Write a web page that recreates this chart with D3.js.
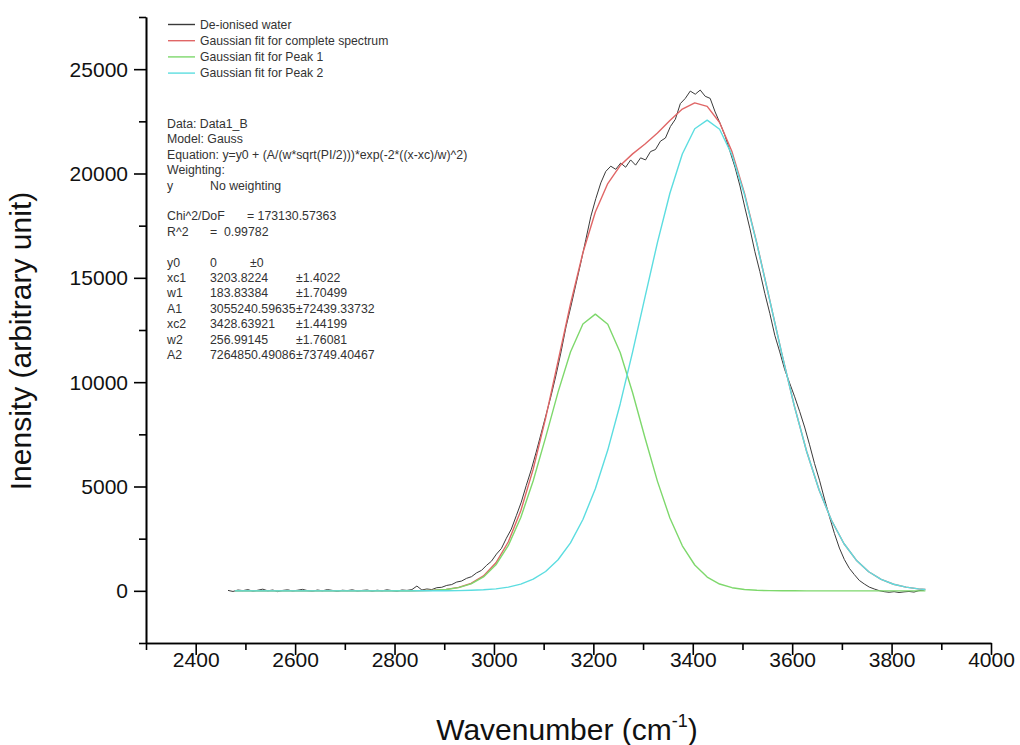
<!DOCTYPE html>
<html>
<head>
<meta charset="utf-8">
<script src="https://cdn.jsdelivr.net/npm/d3@7/dist/d3.min.js"></script>
<style>
  html, body { margin: 0; padding: 0; background: #fff; }
  svg { display: block; font-family: Arial, "Liberation Sans", sans-serif; }
  .note text { white-space: pre; }
</style>
</head>
<body>
<svg id="chart" width="1020" height="745"></svg>
<script>
// Axis tick values
const xMajorTicks = [2400, 2600, 2800, 3000, 3200, 3400, 3600, 3800, 4000];
const xMinorTicks = [2300, 2500, 2700, 2900, 3100, 3300, 3500, 3700, 3900];
const yMajorTicks = [0, 5000, 10000, 15000, 20000, 25000];
const yMinorTicks = [-2500, 2500, 7500, 12500, 17500, 22500, 27500];

// Measured spectrum: de-ionised water, sampled every 10 cm-1 from 2465 cm-1
const spectrumStart = 2465;
const spectrumStep = 10;
const waterIntensity = [
  20, -30, 40, 10, 60, -20, 30, 80, 0, 40, -40, 20, 50, -10, 30, 70, 10, -20, 40, 0,
  60, 20, -30, 30, 10, 50, -10, 20, 40, -20, 30, 0, 50, 10, -20, 40, 20, 60, 230, 40, 90,
  60, 150, 170, 260, 300, 420, 470, 600, 680, 860, 980, 1220, 1420, 1760, 2030, 2520,
  2960, 3600, 4250, 5050, 5800, 6650, 7550, 8450, 9350, 10350, 11450, 12650, 13650,
  14700, 15750, 16850, 17950, 18800, 19550, 20100,
  20350, 20200, 20500, 20300, 20650, 20400, 20750, 20650, 21050, 21150, 21550, 21700,
  22250, 22600, 23350, 23600, 23950, 23800, 24000, 23700, 23600, 22950, 22400,
  21800, 21050, 20300, 19400, 18350, 17350, 16250, 15300, 14250, 13300, 12250, 11450,
  10600, 9950, 9300, 8600, 7850, 7000, 6100, 5300, 4400, 3550, 2750, 2050, 1500, 1080,
  780, 500, 330, 180, 90, 10, -40, -70, -40, -80, -50, -30, -60, 10, 30
];

// Wavenumbers at which the fitted curves are tabulated
const fitWavenumber = [
  2479, 2504, 2529, 2554, 2579, 2604, 2629, 2654, 2679, 2704, 2729, 2754, 2779, 2804,
  2829, 2854, 2879, 2904, 2929, 2954, 2979, 3004, 3029, 3054, 3079, 3104, 3129, 3154,
  3179, 3204, 3229, 3254, 3279, 3304, 3329, 3354, 3379, 3404, 3429, 3454, 3479, 3504,
  3529, 3554, 3579, 3604, 3629, 3654, 3679, 3704, 3729, 3754, 3779, 3804, 3829, 3854, 3868
];

// Gaussian fit for complete spectrum
const fitTotal = [
  0, 0, 0, 0, 0, 0, 0, 0, 0, 0, 0, 0, 0, 1,
  3, 11, 28, 70, 164, 355, 715, 1344, 2352, 3835, 5831, 8280, 11009, 13746,
  16204, 18155, 19519, 20381, 20940, 21413, 21944, 22543, 23090, 23382, 23215, 22446, 21038, 19055,
  16650, 14023, 11377, 8889, 6688, 4846, 3381, 2270, 1469, 914, 548, 316, 176, 94, 65
];

// Gaussian fit for Peak 1
const fitPeak1 = [
  0, 0, 0, 0, 0, 0, 0, 0, 0, 0, 0, 0, 0, 1,
  3, 10, 26, 65, 152, 330, 666, 1248, 2173, 3513, 5274, 7353, 9521, 11449,
  12786, 13261, 12773, 11425, 9491, 7322, 5246, 3490, 2157, 1238, 660, 326, 150, 64,
  25, 9, 3, 1, 0, 0, 0, 0, 0, 0, 0, 0, 0, 0, 0
];

// Gaussian fit for Peak 2
const fitPeak2 = [
  0, 0, 0, 0, 0, 0, 0, 0, 0, 0, 0, 0, 0, 0,
  0, 1, 2, 5, 12, 25, 49, 96, 179, 322, 557, 927, 1488, 2297,
  3418, 4894, 6746, 8956, 11449, 14091, 16698, 19053, 20933, 22144, 22555, 22120, 20888, 18991,
  16625, 14014, 11374, 8888, 6688, 4846, 3381, 2270, 1469, 914, 548, 316, 176, 94, 65
];

// Series names and colours
const seriesNames = [
  "De-ionised water",
  "Gaussian fit for complete spectrum",
  "Gaussian fit for Peak 1",
  "Gaussian fit for Peak 2"
];
const seriesColors = ["#3a3a3a", "#e06666", "#7ed86c", "#5cdde0"];

// Fit report lines: [label, value, error]
const reportHeader = [
  ["Data: Data1_B"],
  ["Model: Gauss"],
  ["Equation: y=y0 + (A/(w*sqrt(PI/2)))*exp(-2*((x-xc)/w)^2)"],
  ["Weighting:"],
  ["y", "No weighting"]
];
const reportStats = [
  ["Chi^2/DoF", "= 173130.57363"],
  ["R^2", "=  0.99782"]
];
const reportParams = [
  ["y0", "0", "\u00b10"],
  ["xc1", "3203.8224", "\u00b11.4022"],
  ["w1", "183.83384", "\u00b11.70499"],
  ["A1", "3055240.59635", "\u00b172439.33732"],
  ["xc2", "3428.63921", "\u00b11.44199"],
  ["w2", "256.99145", "\u00b11.76081"],
  ["A2", "7264850.49086", "\u00b173749.40467"]
];

const svg = d3.select("#chart");
svg.append("rect").attr("width", 1020).attr("height", 745).attr("fill", "#fff");

const x = d3.scaleLinear().domain([2300, 4000]).range([146, 991]);
const y = d3.scaleLinear().domain([-2500, 27500]).range([643, 17]);

// Curves
const waterPoints = waterIntensity.map((v, i) => [spectrumStart + i * spectrumStep, v]);
const line = d3.line().x(d => x(d[0])).y(d => y(d[1]));
const fits = [fitTotal, fitPeak1, fitPeak2].map(arr => arr.map((v, i) => [fitWavenumber[i], v]));

const plot = svg.append("g");
plot.append("path")
  .attr("d", line(waterPoints))
  .attr("fill", "none")
  .attr("stroke", seriesColors[0])
  .attr("stroke-width", 1)
  .attr("stroke-linejoin", "round");
fits.forEach((pts, k) => {
  plot.append("path")
    .attr("d", line(pts))
    .attr("fill", "none")
    .attr("stroke", seriesColors[k + 1])
    .attr("stroke-width", 1.4)
    .attr("stroke-linejoin", "round");
});

// Axes
function styleAxis(g) {
  g.selectAll("path, line").attr("stroke", "#000").attr("stroke-width", 1.6);
}
const xAxisMinor = svg.append("g").attr("transform", "translate(0,643)")
  .call(d3.axisBottom(x).tickValues(xMinorTicks).tickSize(7).tickSizeOuter(0).tickFormat(""));
const xAxis = svg.append("g").attr("transform", "translate(0,643)")
  .call(d3.axisBottom(x).tickValues(xMajorTicks).tickSize(12).tickSizeOuter(0).tickFormat(d3.format("d")));
const yAxisMinor = svg.append("g").attr("transform", "translate(146,0)")
  .call(d3.axisLeft(y).tickValues(yMinorTicks).tickSize(7).tickSizeOuter(0).tickFormat(""));
const yAxis = svg.append("g").attr("transform", "translate(146,0)")
  .call(d3.axisLeft(y).tickValues(yMajorTicks).tickSize(12).tickSizeOuter(0).tickFormat(d3.format("d")));
[xAxisMinor, xAxis, yAxisMinor, yAxis].forEach(styleAxis);

xAxis.selectAll("text")
  .attr("y", 9).attr("dy", "0.71em")
  .attr("font-size", 21).attr("fill", "#111")
  .attr("font-family", "Arial, 'Liberation Sans', sans-serif");
yAxis.selectAll("text")
  .attr("x", -18).attr("dy", "0.34em")
  .attr("font-size", 21).attr("fill", "#111")
  .attr("font-family", "Arial, 'Liberation Sans', sans-serif");

// Axis titles
svg.append("text")
  .attr("transform", "translate(31,341) rotate(-90)")
  .attr("text-anchor", "middle")
  .attr("font-size", 30)
  .attr("fill", "#111")
  .text("Inensity (arbitrary unit)");

const xTitle = svg.append("text")
  .attr("x", 567).attr("y", 740)
  .attr("text-anchor", "middle")
  .attr("font-size", 30)
  .attr("fill", "#111");
xTitle.append("tspan").text("Wavenumber (cm");
xTitle.append("tspan").attr("font-size", 18).attr("dy", -13).text("-1");
xTitle.append("tspan").attr("dy", 13).text(")");

// Legend
const legend = svg.append("g").attr("font-size", 12.2).attr("fill", "#333");
seriesNames.forEach((name, i) => {
  const ly = 24.5 + i * 16.2;
  legend.append("line")
    .attr("x1", 168).attr("x2", 195).attr("y1", ly).attr("y2", ly)
    .attr("stroke", seriesColors[i]).attr("stroke-width", 1.4);
  legend.append("text")
    .attr("x", 200).attr("y", ly + 4.3)
    .attr("fill", "#333")
    .text(name);
});

// Fit report
const note = svg.append("g").attr("class", "note").attr("font-size", 12.3).attr("fill", "#333");
const lineH = 15.4;
let rowY = 128;
reportHeader.forEach(r => {
  note.append("text").attr("x", 167).attr("y", rowY).text(r[0]);
  if (r[1]) note.append("text").attr("x", 210).attr("y", rowY).text(r[1]);
  rowY += lineH;
});
rowY += lineH;
reportStats.forEach((r, i) => {
  note.append("text").attr("x", 167).attr("y", rowY).text(r[0]);
  note.append("text").attr("x", i === 0 ? 247 : 210).attr("y", rowY).text(r[1]);
  rowY += lineH;
});
rowY += lineH;
reportParams.forEach((r, i) => {
  note.append("text").attr("x", 167).attr("y", rowY).text(r[0]);
  note.append("text").attr("x", 210).attr("y", rowY).text(r[1]);
  note.append("text").attr("x", i === 0 ? 250 : 296).attr("y", rowY).text(r[2]);
  rowY += lineH;
});
</script>
</body>
</html>
